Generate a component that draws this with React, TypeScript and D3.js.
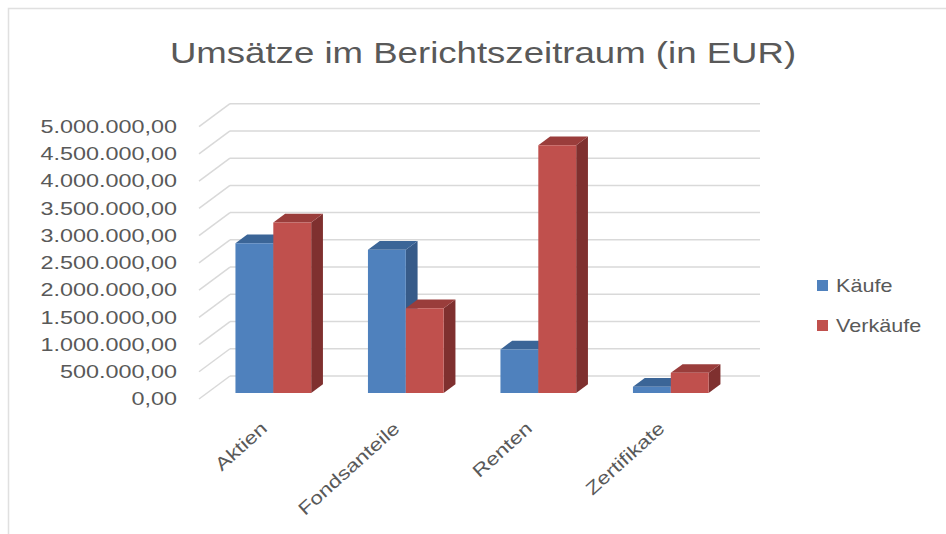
import React from 'react';
import * as d3 from 'd3';

const categories = ['Aktien', 'Fondsanteile', 'Renten', 'Zertifikate'];
const seriesNames = ['Käufe', 'Verkäufe'];
const kaeufe = [2750000, 2630000, 800000, 115000];
const verkaeufe = [3130000, 1555000, 4550000, 370000];
const yTicks = [0, 500000, 1000000, 1500000, 2000000, 2500000, 3000000, 3500000, 4000000, 4500000, 5000000];

const W = 946;
const H = 534;
const FRONT = { left: 199, right: 729, bottom: 399, top: 126.7 };
const DEPTH = { dx: 31, dy: -23 };
const BAR_Z = [0.26, 0.64];
const TEXT = '#595959';
const GRID = '#d9d9d9';
const FONT = '"Liberation Sans", Arial, sans-serif';

const palette = [
  { face: '#4f81bd', top: '#3b6597', side: '#375b89' },
  { face: '#c0504d', top: '#9a3d3b', side: '#7f302f' },
];

const de = d3.formatLocale({ decimal: ',', thousands: '.', grouping: [3], currency: ['', ' €'] });
const fmt = de.format(',.2f');

const proj = (px: number, py: number, z: number): [number, number] => [px + DEPTH.dx * z, py + DEPTH.dy * z];
const poly = (pts: [number, number][]) => pts.map(p => p.join(',')).join(' ');

export default function App() {
  const y = d3.scaleLinear().domain([0, 5000000]).range([FRONT.bottom, FRONT.top]);
  const x = d3.scaleBand<string>().domain(categories).range([FRONT.left, FRONT.right]);
  const xs = d3.scaleBand<string>().domain(seriesNames).range([0, x.bandwidth()]).paddingOuter(0.75);
  const values = [kaeufe, verkaeufe];
  const [z0, z1] = BAR_Z;

  const bars: React.ReactNode[] = [];
  categories.forEach((c, ci) => {
    seriesNames.forEach((s, si) => {
      const v = values[si][ci];
      const x0 = (x(c) ?? 0) + (xs(s) ?? 0);
      const x1 = x0 + xs.bandwidth();
      const yt = y(v);
      const yb = y(0);
      const col = palette[si];
      bars.push(
        <g key={`${c}-${s}`}>
          <polygon points={poly([proj(x1, yt, z0), proj(x1, yt, z1), proj(x1, yb, z1), proj(x1, yb, z0)])} fill={col.side} />
          <polygon points={poly([proj(x0, yt, z0), proj(x1, yt, z0), proj(x1, yt, z1), proj(x0, yt, z1)])} fill={col.top} />
          <polygon points={poly([proj(x0, yt, z0), proj(x1, yt, z0), proj(x1, yb, z0), proj(x0, yb, z0)])} fill={col.face} />
        </g>
      );
    });
  });

  return (
    <svg width={W} height={H} style={{ position: 'absolute', left: 0, top: 0, background: '#fff' }} fontFamily={FONT}>
      <rect x={8.5} y={8.5} width={W + 10} height={H + 10} fill="#fff" stroke="#e0e0e0" strokeWidth={1.5} />

      <text transform={`translate(${W / 2 + 10},63) scale(1.22,1)`} textAnchor="middle" fontSize={30} fill={TEXT}>
        Umsätze im Berichtszeitraum (in EUR)
      </text>

      {/* side wall diagonals + back wall gridlines */}
      {yTicks.map(t => {
        const [bx, by] = proj(FRONT.left, y(t), 1);
        const [ex] = proj(FRONT.right, y(t), 1);
        return (
          <g key={t}>
            <line x1={FRONT.left} y1={y(t)} x2={bx} y2={by} stroke={GRID} strokeWidth={1.5} />
            <line x1={bx} y1={by} x2={ex} y2={by} stroke={GRID} strokeWidth={1.5} />
            <text transform={`translate(${FRONT.left - 22},${y(t)}) scale(1.3,1)`} textAnchor="end" dy="0.35em" fontSize={18} fill={TEXT}>
              {fmt(t)}
            </text>
          </g>
        );
      })}

      {bars}

      {categories.map(c => {
        const cx = (x(c) ?? 0) + x.bandwidth() / 2 + 3;
        return (
          <text key={c} transform={`translate(${cx},430) rotate(-42) scale(1.25,1)`} textAnchor="end" fontSize={18} fill={TEXT}>
            {c}
          </text>
        );
      })}

      {seriesNames.map((s, i) => (
        <g key={s} transform={`translate(817,${280 + i * 40})`}>
          <rect width={11} height={11} fill={palette[i].face} />
          <text transform="translate(19,5.5) scale(1.2,1)" dy="0.35em" fontSize={18} fill={TEXT}>{s}</text>
        </g>
      ))}
    </svg>
  );
}
